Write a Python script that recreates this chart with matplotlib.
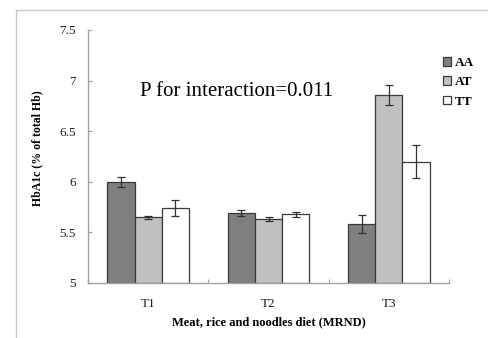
import numpy as np
import matplotlib.pyplot as plt
from matplotlib.patches import Rectangle

# ---- data
groups = ['T1', 'T2', 'T3']
genotypes = ['AA', 'AT', 'TT']
aa_mean = [6.00, 5.69, 5.58]
aa_err = [0.05, 0.03, 0.09]
at_mean = [5.65, 5.63, 6.86]
at_err = [0.015, 0.02, 0.10]
tt_mean = [5.74, 5.68, 6.20]
tt_err = [0.08, 0.025, 0.16]
yticks = [5, 5.5, 6, 6.5, 7, 7.5]
yticklabels = ['5', '5.5', '6', '6.5', '7', '7.5']

plt.rcParams['font.family'] = ['Liberation Serif', 'DejaVu Serif']

fig = plt.figure(figsize=(4.88, 3.38), dpi=100)
# light grey frame around the chart area
fig.patches.append(Rectangle((16 / 488, -0.1), 1.2, 1 - 10 / 338 + 0.1,
                             transform=fig.transFigure, fill=False,
                             edgecolor='#c8c8c8', linewidth=1.0))

ax = fig.add_axes([88 / 488, 1 - 283 / 338, (449 - 88) / 488, (283 - 30) / 338])

x = np.arange(len(groups))
w = 0.227
means = [aa_mean, at_mean, tt_mean]
errs = [aa_err, at_err, tt_err]
colors = ['#7f7f7f', '#c0c0c0', '#ffffff']
for i, (m, e, c, lab) in enumerate(zip(means, errs, colors, genotypes)):
    ax.bar(x + (i - 1) * w, np.array(m) - 5, w, bottom=5, color=c,
           edgecolor='#3a3a3a', linewidth=0.9, label=lab,
           yerr=e, capsize=3, error_kw=dict(ecolor='#303030', elinewidth=0.9, capthick=0.9))

ax.set_xlim(-0.5, 2.5)
ax.set_ylim(5, 7.5)
ax.set_yticks(yticks)
ax.set_yticklabels(yticklabels)
ax.set_xticks([-0.5, 0.5, 1.5, 2.5])
ax.set_xticklabels([])
ax.set_xticks(x, minor=True)
ax.set_xticklabels(groups, minor=True)
ax.tick_params(axis='x', which='minor', length=0, pad=11, labelsize=9.5, colors='#202020')
ax.tick_params(axis='x', which='major', direction='in', length=3, color='#a0a0a0')
ax.tick_params(axis='y', direction='in', length=3, color='#a0a0a0', labelsize=9.5,
               labelcolor='#202020', pad=9)

for s in ['top', 'right']:
    ax.spines[s].set_visible(False)
for s in ['left', 'bottom']:
    ax.spines[s].set_color('#a0a0a0')
    ax.spines[s].set_linewidth(1.0)

ax.set_ylabel('HbA1c (% of total Hb)', fontsize=8.5, fontweight='bold', va='center')
ax.yaxis.set_label_coords(-51 / 361, (283 - 148) / 253)
ax.set_xlabel('Meat, rice and noodles diet (MRND)', fontsize=9, fontweight='bold', va='center')
ax.xaxis.set_label_coords(0.5, -(322 - 283) / 253)

ax.text(-0.068, 6.89, 'P for interaction=0.011', fontsize=15, va='center', ha='left')

leg = ax.legend(loc='upper left', bbox_to_anchor=(0.95, 0.94), frameon=False,
                handlelength=0.6, handleheight=0.6, handletextpad=0.3,
                labelspacing=0.55, prop={'weight': 'bold', 'size': 9.5})

fig.savefig('out.png', dpi=100)
